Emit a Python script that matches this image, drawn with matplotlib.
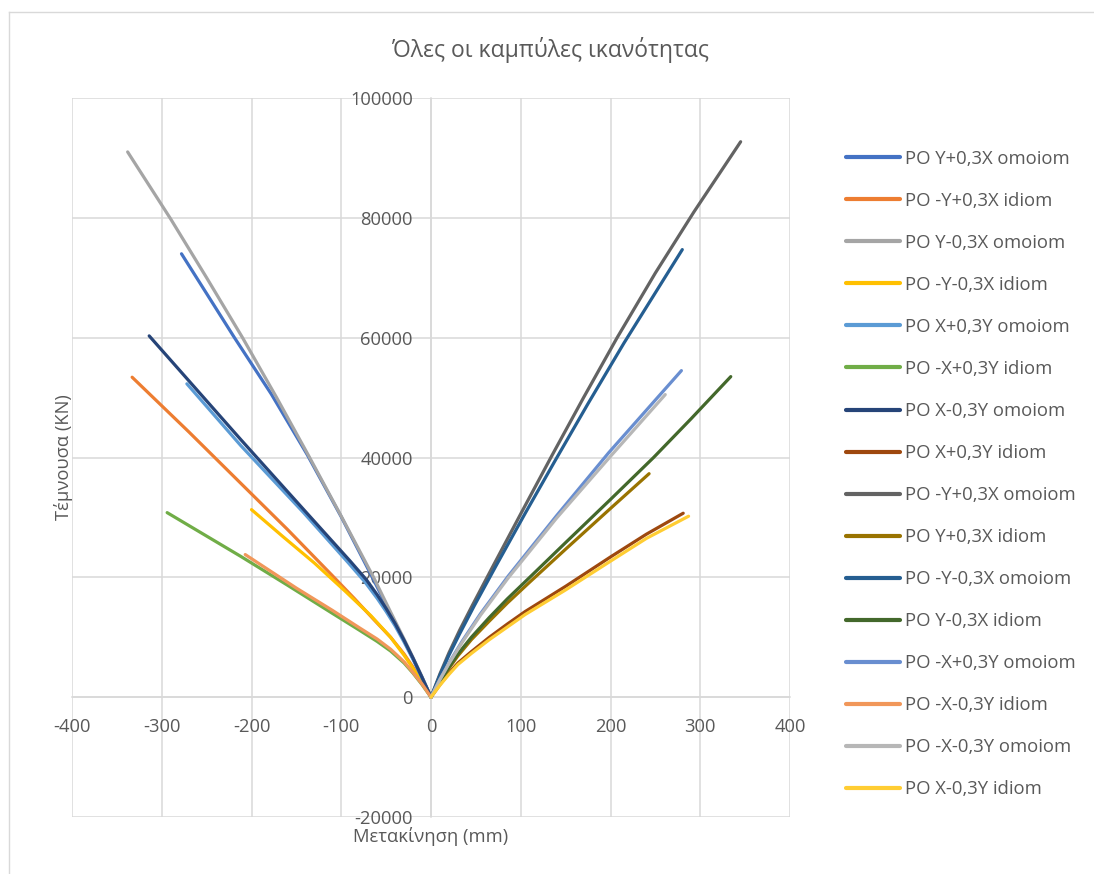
import matplotlib
matplotlib.use("Agg")
import matplotlib.pyplot as plt
from matplotlib.lines import Line2D

plt.rcParams['font.family'] = ['Open Sans', 'DejaVu Sans']
plt.rcParams['axes.unicode_minus'] = False

# Pushover (capacity) curves: displacement in mm, base shear in kN
labels = [
    "PO Y+0,3X omoiom", "PO -Y+0,3X idiom", "PO Y-0,3X omoiom", "PO -Y-0,3X idiom",
    "PO X+0,3Y omoiom", "PO -X+0,3Y idiom", "PO X-0,3Y omoiom", "PO X+0,3Y idiom",
    "PO -Y+0,3X omoiom", "PO Y+0,3X idiom", "PO -Y-0,3X omoiom", "PO Y-0,3X idiom",
    "PO -X+0,3Y omoiom", "PO -X-0,3Y idiom", "PO -X-0,3Y omoiom", "PO X-0,3Y idiom",
]
colors = [
    "#4472C4", "#ED7D31", "#A5A5A5", "#FFC000", "#5B9BD5", "#70AD47", "#264478", "#9E480E",
    "#636363", "#997300", "#255E91", "#43682B", "#698ED0", "#F1975A", "#B7B7B7", "#FFCD33",
]

d01 = [0, -10, -20, -30, -45, -65, -100, -138, -178, -219, -278]
v01 = [0, 3300, 6400, 9400, 13900, 19900, 30100, 40500, 50600, 60000, 74000]
d02 = [0, -10, -20, -30, -45, -64, -85, -110, -160, -212, -270, -333]
v02 = [0, 2600, 5000, 7200, 10000, 13000, 16400, 20300, 28000, 35700, 44300, 53400]
d03 = [0, -10, -20, -30, -45, -64, -100, -136, -172, -210, -250, -290, -338]
v03 = [0, 3400, 6600, 9700, 14200, 20000, 30200, 40200, 50000, 60000, 70000, 79800, 91000]
d04 = [0, -10, -20, -30, -45, -67, -95, -130, -165, -200]
v04 = [0, 2500, 4800, 7000, 10000, 13600, 17600, 22400, 26800, 31300]
d05 = [0, -10, -20, -30, -40, -50, -60, -74, -92, -142, -212, -272]
v05 = [0, 3200, 6300, 9200, 11900, 14300, 16500, 19300, 22400, 30800, 42000, 52300]
d06 = [0, -10, -20, -30, -45, -60, -80, -110, -160, -212, -294]
v06 = [0, 2100, 4000, 5700, 7700, 9300, 11200, 14000, 18700, 23500, 30800]
d07 = [0, -10, -20, -30, -40, -50, -60, -72, -90, -140, -212, -314]
v07 = [0, 3300, 6500, 9500, 12300, 14800, 17100, 19600, 22700, 31000, 43000, 60300]
d08 = [0, 10, 20, 30, 45, 65, 85, 105, 150, 200, 240, 281]
v08 = [0, 2100, 4000, 5700, 7600, 10000, 12200, 14300, 18500, 23400, 27200, 30700]
d09 = [0, 10, 20, 32, 46, 66, 100, 135, 170, 207, 250, 293, 345]
v09 = [0, 3900, 7400, 11200, 15300, 21000, 30600, 40400, 50000, 59900, 70800, 81000, 92700]
d10 = [0, 10, 20, 30, 45, 65, 85, 110, 150, 200, 243]
v10 = [0, 2500, 4800, 6900, 9600, 12700, 15700, 19200, 24700, 31500, 37300]
d11 = [0, 10, 20, 32, 48, 72, 105, 138, 175, 215, 250, 280]
v11 = [0, 3700, 7000, 10600, 15200, 21800, 30700, 39400, 49000, 59100, 67500, 74700]
d12 = [0, 10, 20, 30, 45, 65, 85, 110, 150, 200, 248, 290, 334]
v12 = [0, 2600, 5000, 7200, 10000, 13300, 16400, 20000, 25800, 33000, 40000, 46500, 53500]
d13 = [0, 10, 20, 35, 55, 86, 140, 198, 279]
v13 = [0, 3000, 5700, 9400, 13900, 20200, 30300, 40800, 54500]
d14 = [0, -10, -20, -30, -45, -60, -80, -110, -150, -207]
v14 = [0, 2200, 4100, 5900, 8000, 9700, 11600, 14500, 18200, 23800]
d15 = [0, 10, 20, 35, 55, 86, 140, 200, 261]
v15 = [0, 2950, 5600, 9200, 13650, 19900, 29900, 40200, 50500]
d16 = [0, 10, 20, 30, 45, 65, 85, 105, 150, 200, 240, 287]
v16 = [0, 2000, 3800, 5450, 7300, 9600, 11700, 13800, 17900, 22700, 26500, 30200]

displacements = [d01, d02, d03, d04, d05, d06, d07, d08, d09, d10, d11, d12, d13, d14, d15, d16]
shears = [v01, v02, v03, v04, v05, v06, v07, v08, v09, v10, v11, v12, v13, v14, v15, v16]

x_ticks = [-400, -300, -200, -100, 0, 100, 200, 300, 400]
y_ticks = [-20000, 0, 20000, 40000, 60000, 80000, 100000]

text_color = "#595959"
grid_color = "#D9D9D9"

fig = plt.figure(figsize=(10.94, 8.74), dpi=100)

# chart-area frame (top and left edges fall inside the canvas)
fig.add_artist(Line2D([9 / 1094, 1.0], [1 - 12 / 874] * 2, transform=fig.transFigure,
                      color=grid_color, linewidth=1.0))
fig.add_artist(Line2D([9 / 1094] * 2, [0.0, 1 - 12 / 874], transform=fig.transFigure,
                      color=grid_color, linewidth=1.0))

ax = fig.add_axes([72 / 1094, 57 / 874, 718 / 1094, 719 / 874])
ax.set_xlim(-400, 400)
ax.set_ylim(-20000, 100000)
ax.set_xticks(x_ticks)
ax.set_yticks(y_ticks)
ax.grid(True, color=grid_color, linewidth=1.1)
ax.set_axisbelow(True)

for name in ["top", "right"]:
    ax.spines[name].set_visible(False)
ax.spines["left"].set_position(("data", 0))
ax.spines["bottom"].set_position(("data", 0))
for name in ["left", "bottom"]:
    ax.spines[name].set_color(grid_color)
    ax.spines[name].set_linewidth(1.1)
    ax.spines[name].set_zorder(0.5)

ax.tick_params(axis="both", length=0, labelsize=13.2, labelcolor=text_color)
ax.tick_params(axis="x", pad=15)
ax.tick_params(axis="y", pad=13)

for d, v, lab, col in zip(displacements, shears, labels, colors):
    ax.plot(d, v, color=col, linewidth=2.3, label=lab,
            solid_capstyle="round", solid_joinstyle="round")

ax.set_xlabel("Μετακίνηση (mm)", fontsize=13.2, color=text_color)
ax.set_ylabel("Τέμνουσα (KN)", fontsize=13.2, color=text_color)
ax.xaxis.set_label_coords(0.5, -0.014)
ax.yaxis.set_label_coords(0.001, 0.5)

fig.text(0.503, 1 - 50 / 874, "Όλες οι καμπύλες ικανότητας", ha="center", va="center",
         fontsize=16.5, color=text_color)

handles, labs = ax.get_legend_handles_labels()
leg = fig.legend(handles, labs, loc="center left",
                 bbox_to_anchor=(846 / 1094, 1 - 474 / 874),
                 bbox_transform=fig.transFigure, frameon=False, fontsize=13.3,
                 handlelength=2.95, handletextpad=0.25, labelspacing=1.3,
                 borderpad=0, borderaxespad=0)
for t in leg.get_texts():
    t.set_color(text_color)
for h in leg.legend_handles:
    h.set_linewidth(3.0)

fig.savefig("out.png", dpi=100)
